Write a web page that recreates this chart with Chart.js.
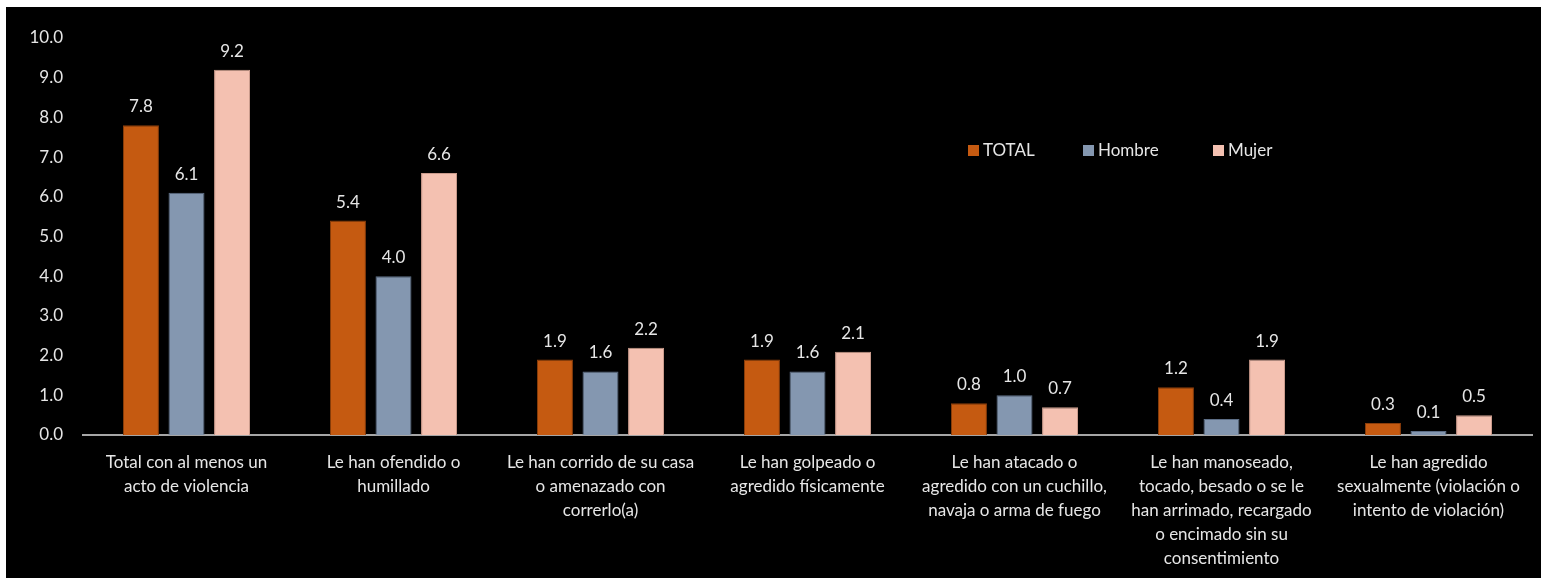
<!DOCTYPE html>
<html>
<head>
<meta charset="utf-8">
<script src="https://cdn.jsdelivr.net/npm/chart.js@4"></script>
<style>
  html, body { margin: 0; padding: 0; background: #fff; }
  #frame { position: absolute; left: 6px; top: 7px; width: 1535px; height: 571px; background: #000; }
  #chartCanvas { display: block; }
</style>
</head>
<body>
<div id="frame"><canvas id="chartCanvas" width="1535" height="571"></canvas></div>
<script>
  // === Data ===
  const categories = [
    ["Total con al menos un", "acto de violencia"],
    ["Le han ofendido o", "humillado"],
    ["Le han corrido de su casa", "o amenazado con", "correrlo(a)"],
    ["Le han golpeado o", "agredido físicamente"],
    ["Le han atacado o", "agredido con un cuchillo,", "navaja o arma de fuego"],
    ["Le han manoseado,", "tocado, besado o se le", "han arrimado, recargado", "o encimado sin su", "consentimiento"],
    ["Le han agredido", "sexualmente (violación o", "intento de violación)"]
  ];
  const seriesNames = ["TOTAL", "Hombre", "Mujer"];
  const totalValues = [7.8, 5.4, 1.9, 1.9, 0.8, 1.2, 0.3];
  const hombreValues = [6.1, 4.0, 1.6, 1.6, 1.0, 0.4, 0.1];
  const mujerValues = [9.2, 6.6, 2.2, 2.1, 0.7, 1.9, 0.5];
  const yTicks = [0, 1, 2, 3, 4, 5, 6, 7, 8, 9, 10];

  const FONT = "Lato, 'Noto Sans', sans-serif";
  const TEXT = '#e6e6e6';

  // value labels above each bar
  const valueLabels = {
    id: 'valueLabels',
    afterDatasetsDraw(chart) {
      const c = chart.ctx;
      c.save();
      c.font = `17px ${FONT}`;
      c.fillStyle = TEXT;
      c.textAlign = 'center';
      c.textBaseline = 'bottom';
      chart.data.datasets.forEach((ds, i) => {
        chart.getDatasetMeta(i).data.forEach((bar, j) => {
          c.fillText(ds.data[j].toFixed(1), bar.x, bar.y - 10);
        });
      });
      c.restore();
    }
  };

  // legend drawn inside the plot, top right
  const innerLegend = {
    id: 'innerLegend',
    afterDraw(chart) {
      const c = chart.ctx;
      const xs = [962, 1077, 1207];
      const y = 144;
      c.save();
      c.font = `17px ${FONT}`;
      c.textBaseline = 'middle';
      chart.data.datasets.forEach((ds, i) => {
        c.fillStyle = ds.backgroundColor;
        c.fillRect(xs[i], y - 6, 11, 11);
        c.fillStyle = TEXT;
        c.fillText(ds.label, xs[i] + 15, y);
      });
      c.restore();
    }
  };

  const ctx = document.getElementById('chartCanvas').getContext('2d');
  const chart = new Chart(ctx, {
    type: 'bar',
    data: {
      labels: categories,
      datasets: [
        { label: seriesNames[0], data: totalValues, backgroundColor: '#C55A11', borderColor: '#8a3d0b', borderWidth: 1 },
        { label: seriesNames[1], data: hombreValues, backgroundColor: '#8497B0', borderColor: '#5d6e86', borderWidth: 1 },
        { label: seriesNames[2], data: mujerValues, backgroundColor: '#F4C1B1', borderColor: '#c99a8b', borderWidth: 1 }
      ]
    },
    options: {
      responsive: false,
      animation: false,
      layout: { padding: { top: 31, right: 9, left: 0, bottom: 0 } },
      datasets: { bar: { barPercentage: 0.79, categoryPercentage: 0.66 } },
      plugins: {
        legend: { display: false },
        tooltip: { enabled: false }
      },
      scales: {
        x: {
          grid: { display: false },
          border: { display: true, color: '#a6a6a6', width: 2 },
          ticks: {
            color: TEXT, maxRotation: 0, autoSkip: false, padding: 7,
            font: { family: FONT, size: 17, lineHeight: 1.42 }
          },
          afterFit(scale) { scale.height = 143; }
        },
        y: {
          min: 0, max: 10,
          grid: { display: false },
          border: { display: false },
          afterBuildTicks(scale) { scale.ticks = yTicks.map(v => ({ value: v })); },
          ticks: {
            color: TEXT, padding: 12,
            font: { family: FONT, size: 17 },
            callback: v => v.toFixed(1)
          },
          afterFit(scale) { scale.width = 77; }
        }
      }
    },
    plugins: [valueLabels, innerLegend]
  });
</script>
</body>
</html>
